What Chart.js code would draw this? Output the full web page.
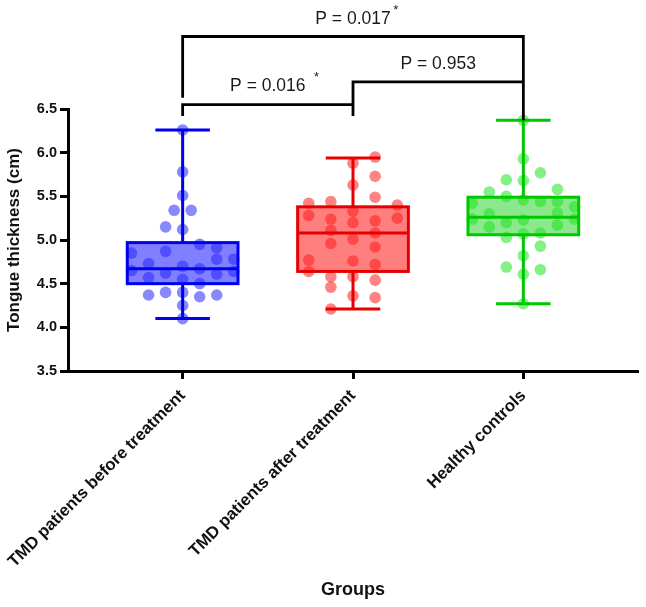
<!DOCTYPE html>
<html>
<head>
    <title>Tongue thickness by group</title>
    <script src="https://cdn.jsdelivr.net/npm/chart.js"></script>
    <style>
        body { margin: 0; background: #fff; }
        .chart-container { width: 646px; height: 607px; position: relative; }
    </style>
</head>
<body>
    <div class="chart-container">
        <canvas id="myChart"></canvas>
    </div>

    <script>
        // groups on the x axis
        const groups = ['TMD patients before treatment', 'TMD patients after treatment', 'Healthy controls'];

        // individual measurements (cm) and their jitter slot in the swarm
        const beforeValues = [6.26, 5.78, 5.51, 5.34, 5.34, 5.15, 5.12, 4.95, 4.91, 4.85, 4.87, 4.78, 4.78, 4.73, 4.70,
                              4.67, 4.65, 4.62, 4.64, 4.61, 4.57, 4.55, 4.50, 4.37, 4.40, 4.40, 4.35, 4.37, 4.25, 4.10];
        const beforeSlots  = [0, 0, 0, -0.5, 0.5, -1, 0, 1, 2, -3, -1, 2, 3, -2, 0,
                              1, -3, -1, 3, 2, -2, 0, 1, -2, -1, 0, 1, 2, 0, 0];
        const afterValues  = [5.95, 5.88, 5.73, 5.63, 5.49, 5.42, 5.44, 5.40, 5.28, 5.33, 5.24, 5.20, 5.22, 5.25, 5.11,
                              5.08, 5.01, 4.96, 4.92, 4.77, 4.76, 4.72, 4.64, 4.58, 4.58, 4.54, 4.46, 4.36, 4.34, 4.21];
        const afterSlots   = [1, 0, 1, 0, 1, -2, -1, 2, -2, 0, -1, 0, 1, 2, -1,
                              1, 0, -1, 1, -2, 0, 1, -2, -1, 0, 1, -1, 0, 1, -1];
        const healthyValues = [6.37, 5.93, 5.77, 5.69, 5.68, 5.58, 5.55, 5.50, 5.46, 5.44, 5.44, 5.42, 5.38, 5.30, 5.31,
                               5.24, 5.23, 5.20, 5.24, 5.15, 5.17, 5.07, 5.08, 5.03, 4.93, 4.82, 4.69, 4.66, 4.61, 4.27];
        const healthySlots  = [0, 0, 1, -1, 0, 2, -2, -1, 0, 1, 2, -3, 3, -2, 2,
                               -3, 0, -1, 3, -2, 2, 0, 1, -1, 1, 0, -1, 1, 0, 0];

        // box plot summaries (min, q1, median, q3, max) per group
        const whiskerLow  = [4.10, 4.21, 4.27];
        const quartile1   = [4.50, 4.64, 5.06];
        const medians     = [4.67, 5.08, 5.26];
        const quartile3   = [4.97, 5.38, 5.49];
        const whiskerHigh = [6.26, 5.94, 6.37];

        // y axis ticks
        const yTicks = [3.5, 4.0, 4.5, 5.0, 5.5, 6.0, 6.5];

        // comparisons: [from group, to group, label, significant]
        const comparisons = [
            [0, 2, 'P = 0.017', true],
            [1, 2, 'P = 0.953', false],
            [0, 1, 'P = 0.016', true]
        ];

        const lineColors  = ['#0000f0', '#e80000', '#00c800'];
        const fillColors  = ['rgba(0, 0, 255, 0.5)', 'rgba(255, 0, 0, 0.5)', 'rgba(0, 205, 0, 0.45)'];
        const pointColors = ['rgba(40, 40, 255, 0.55)', 'rgba(255, 30, 30, 0.55)', 'rgba(30, 230, 30, 0.55)'];
        const slotWidth   = [0.1, 0.13, 0.1];   // jitter spacing in category units

        const FONT = "'Liberation Sans', Arial, sans-serif";

        const seriesValues = [beforeValues, afterValues, healthyValues];
        const seriesSlots = [beforeSlots, afterSlots, healthySlots];

        const datasets = seriesValues.map((vals, g) => ({
            label: groups[g],
            data: vals.map((v, i) => ({ x: g + seriesSlots[g][i] * slotWidth[g], y: v })),
            backgroundColor: pointColors[g],
            borderWidth: 0,
            pointRadius: 5.8,
            pointHoverRadius: 5.8
        }));

        // box plots, brackets and p-values
        const boxPlugin = {
            id: 'boxPlugin',
            beforeDatasetsDraw(chart) {
                const ctx = chart.ctx;
                const xs = chart.scales.x, ys = chart.scales.y;
                ctx.save();
                groups.forEach((name, g) => {
                    const x0 = xs.getPixelForValue(g - 0.325);
                    const x1 = xs.getPixelForValue(g + 0.325);
                    const yTop = ys.getPixelForValue(quartile3[g]);
                    const yBot = ys.getPixelForValue(quartile1[g]);
                    ctx.fillStyle = fillColors[g];
                    ctx.fillRect(x0, yTop, x1 - x0, yBot - yTop);
                });
                ctx.restore();
            },
            afterDatasetsDraw(chart) {
                const ctx = chart.ctx;
                const xs = chart.scales.x, ys = chart.scales.y;
                ctx.save();
                ctx.lineWidth = 3;
                ctx.lineCap = 'butt';
                groups.forEach((name, g) => {
                    const cx = xs.getPixelForValue(g);
                    const x0 = xs.getPixelForValue(g - 0.325);
                    const x1 = xs.getPixelForValue(g + 0.325);
                    const c0 = xs.getPixelForValue(g - 0.16);
                    const c1 = xs.getPixelForValue(g + 0.16);
                    const yq3 = ys.getPixelForValue(quartile3[g]);
                    const yq1 = ys.getPixelForValue(quartile1[g]);
                    const ymed = ys.getPixelForValue(medians[g]);
                    const ylo = ys.getPixelForValue(whiskerLow[g]);
                    const yhi = ys.getPixelForValue(whiskerHigh[g]);
                    ctx.strokeStyle = lineColors[g];
                    ctx.strokeRect(x0, yq3, x1 - x0, yq1 - yq3);
                    ctx.beginPath();
                    ctx.moveTo(x0, ymed); ctx.lineTo(x1, ymed);
                    ctx.moveTo(cx, yq3); ctx.lineTo(cx, yhi);
                    ctx.moveTo(cx, yq1); ctx.lineTo(cx, ylo);
                    ctx.moveTo(c0, yhi); ctx.lineTo(c1, yhi);
                    ctx.moveTo(c0, ylo); ctx.lineTo(c1, ylo);
                    ctx.stroke();
                });

                // significance brackets
                const px = g => xs.getPixelForValue(g);
                const py = v => ys.getPixelForValue(v);
                ctx.strokeStyle = '#000';
                ctx.lineWidth = 2.8;
                ctx.lineJoin = 'miter';
                ctx.beginPath();
                // 0 vs 2
                ctx.moveTo(px(0), py(6.63)); ctx.lineTo(px(0), py(7.33));
                ctx.lineTo(px(2), py(7.33)); ctx.lineTo(px(2), py(6.37));
                // 1 vs 2
                ctx.moveTo(px(1), py(6.42)); ctx.lineTo(px(1), py(6.81)); ctx.lineTo(px(2), py(6.81));
                // 0 vs 1
                ctx.moveTo(px(0), py(6.42)); ctx.lineTo(px(0), py(6.55)); ctx.lineTo(px(1), py(6.55));
                ctx.stroke();

                ctx.fillStyle = '#1a1a1a';
                ctx.textAlign = 'center';
                ctx.textBaseline = 'middle';
                const labelLevels = [7.53, 7.01, 6.76];
                comparisons.forEach((c, i) => {
                    const mid = (px(c[0]) + px(c[1])) / 2;
                    const y = py(labelLevels[i]);
                    ctx.font = '17.5px ' + FONT;
                    ctx.fillText(c[2], mid, y);
                    if (c[3]) {
                        const w = ctx.measureText(c[2]).width;
                        ctx.font = '13px ' + FONT;
                        ctx.fillText('*', mid + w / 2 + (i === 0 ? 5 : 11), y - 9);
                    }
                });
                ctx.restore();
            }
        };

        const ctx = document.getElementById('myChart').getContext('2d');
        const myChart = new Chart(ctx, {
            type: 'scatter',
            data: { datasets: datasets },
            options: {
                responsive: true,
                maintainAspectRatio: false,
                animation: false,
                layout: { padding: { top: 109, right: 8, bottom: 0, left: 0 } },
                plugins: {
                    legend: { display: false },
                    tooltip: { enabled: false }
                },
                scales: {
                    x: {
                        type: 'linear',
                        min: -0.673,
                        max: 2.673,
                        afterBuildTicks: scale => {
                            scale.ticks = groups.map((n, i) => ({ value: i }));
                        },
                        afterFit: scale => {
                            scale.height = 236;
                            scale.paddingLeft = 0;
                            scale.paddingRight = 0;
                        },
                        grid: {
                            drawOnChartArea: false,
                            drawTicks: true,
                            tickLength: 8,
                            tickWidth: 3,
                            tickColor: '#000'
                        },
                        border: { display: true, color: '#000', width: 3 },
                        ticks: {
                            autoSkip: false,
                            minRotation: 45,
                            maxRotation: 45,
                            padding: 7,
                            color: '#111',
                            font: { family: FONT, size: 16.8, weight: 'bold' },
                            callback: v => groups[v] ?? ''
                        },
                        title: {
                            display: true,
                            text: 'Groups',
                            color: '#111',
                            padding: { top: 0, bottom: 6 },
                            font: { family: FONT, size: 18, weight: 'bold' }
                        }
                    },
                    y: {
                        min: 3.5,
                        max: 6.5,
                        afterBuildTicks: scale => {
                            scale.ticks = yTicks.map(v => ({ value: v }));
                        },
                        afterFit: scale => { scale.width = 68; },
                        grid: {
                            drawOnChartArea: false,
                            drawTicks: true,
                            tickLength: 8,
                            tickWidth: 3,
                            tickColor: '#000'
                        },
                        border: { display: true, color: '#000', width: 3 },
                        ticks: {
                            padding: 3,
                            color: '#111',
                            font: { family: FONT, size: 14.5, weight: 'bold' },
                            callback: v => v.toFixed(1)
                        },
                        title: {
                            display: true,
                            text: 'Tongue thickness (cm)',
                            color: '#111',
                            padding: { top: 4, bottom: 0 },
                            font: { family: FONT, size: 17, weight: 'bold' }
                        }
                    }
                }
            },
            plugins: [boxPlugin]
        });
    </script>
</body>
</html>
